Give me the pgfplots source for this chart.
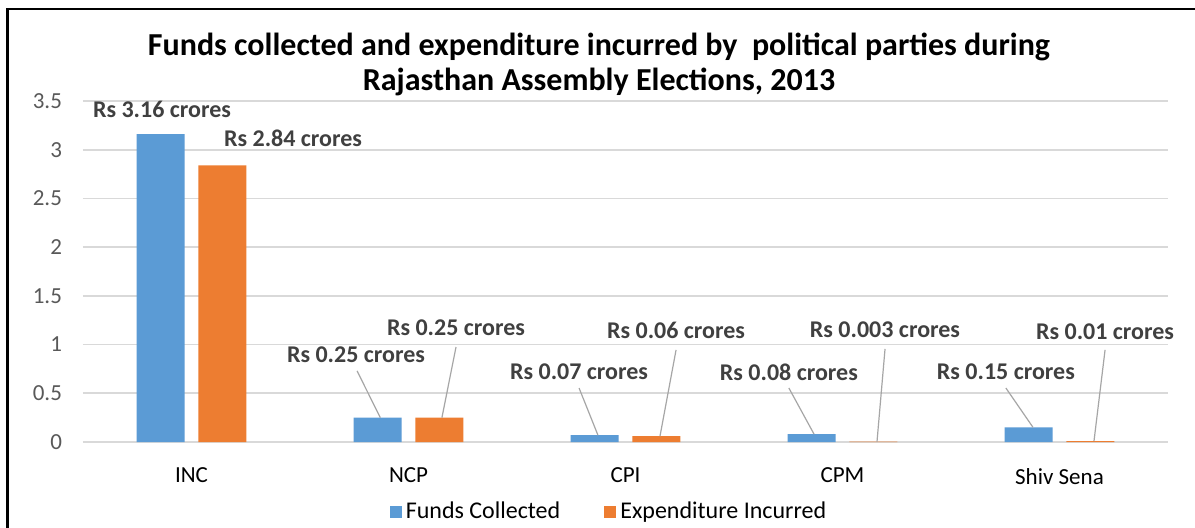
\documentclass[border=0pt]{standalone}
\usepackage{fontspec}
\setmainfont{Carlito}
\usepackage{pgfplots}
\usepackage{pgfplotstable}
\pgfplotsset{compat=1.18}
\definecolor{fundblue}{HTML}{5B9BD5}
\definecolor{exporange}{HTML}{ED7D31}
\definecolor{gridgray}{HTML}{D9D9D9}
\definecolor{ticktext}{HTML}{595959}
\definecolor{labtext}{HTML}{404040}
\definecolor{leader}{HTML}{A6A6A6}
\pgfplotstableread{
x funds exp
0 3.16 2.84
1 0.25 0.25
2 0.07 0.06
3 0.08 0.003
4 0.15 0.01
}\data
\begin{document}
\begin{tikzpicture}
\useasboundingbox (0,0) rectangle (597.5pt,263.5pt);
\fill[white] (0,0) rectangle (597.5pt,263.5pt);
\draw[black, line width=1.3pt] (3.8pt,-1pt) -- (3.8pt,259pt) -- (599pt,259pt);
\node[align=center, font=\fontsize{16pt}{17.5pt}\selectfont\bfseries, text=black] at (299.5pt,231.5pt)
  {Funds collected and expenditure incurred by\ \ political parties during\\Rajasthan Assembly Elections, 2013};
\begin{axis}[
  at={(41.5pt,42.5pt)}, anchor=south west,
  scale only axis, width=542.5pt, height=170.5pt,
  xmin=-0.5, xmax=4.5, ymin=0, ymax=3.5,
  xtick={0,1,2,3,4}, xticklabels={INC,NCP,CPI,CPM,Shiv Sena},
  ytick={0,0.5,1,1.5,2,2.5,3,3.5},
  yticklabels={0,0.5,1,1.5,2,2.5,3,3.5},
  major tick length=0pt,
  axis line style={draw=none},
  ymajorgrids, grid style={gridgray, line width=0.9pt},
  tick label style={font=\fontsize{11.5pt}{13pt}\selectfont},
  xticklabel style={yshift=-9.5pt, text=black},
  yticklabel style={xshift=-7pt, text=ticktext},
  legend style={at={(0.4857,-0.205)}, anchor=center, draw=none, fill=none,
    legend columns=2, font=\fontsize{12pt}{14pt}\selectfont, text=black,
    /tikz/every even column/.append style={column sep=20pt}},
  legend image code/.code={\fill[#1] (0pt,-3pt) rectangle (6pt,3pt);},
  clip=false,
]
\addplot[ybar, bar width=24pt, bar shift=-15.4pt, fill=fundblue, draw=none] table[x=x,y=funds]{\data};
\addlegendentry{Funds Collected}
\addplot[ybar, bar width=24pt, bar shift=15.4pt, fill=exporange, draw=none] table[x=x,y=exp]{\data};
\addlegendentry{Expenditure Incurred}
% data labels
\begin{scope}[every node/.style={font=\fontsize{12pt}{14pt}\selectfont\bfseries, text=labtext}]
\node at (axis cs:-0.136,3.41) {Rs 3.16 crores};
\node at (axis cs:0.468,3.12) {Rs 2.84 crores};
\node at (axis cs:0.758,0.893) {Rs 0.25 crores};
\node at (axis cs:1.219,1.17) {Rs 0.25 crores};
\node at (axis cs:1.786,0.718) {Rs 0.07 crores};
\node at (axis cs:2.233,1.15) {Rs 0.06 crores};
\node at (axis cs:2.753,0.718) {Rs 0.08 crores};
\node at (axis cs:3.196,1.15) {Rs 0.003 crores};
\node at (axis cs:3.753,0.718) {Rs 0.15 crores};
\node at (axis cs:4.21,1.13) {Rs 0.01 crores};
\end{scope}
\begin{scope}[leader, line width=0.6pt]
\draw (axis cs:0.763,0.73) -- (axis cs:0.870,0.25);
\draw (axis cs:1.219,0.975) -- (axis cs:1.154,0.25);
\draw (axis cs:1.786,0.554) -- (axis cs:1.873,0.07);
\draw (axis cs:2.233,0.945) -- (axis cs:2.159,0.06);
\draw (axis cs:2.753,0.554) -- (axis cs:2.869,0.08);
\draw (axis cs:3.196,0.955) -- (axis cs:3.159,0.003);
\draw (axis cs:3.753,0.554) -- (axis cs:3.878,0.15);
\draw (axis cs:4.21,0.945) -- (axis cs:4.159,0.01);
\end{scope}
\end{axis}
\end{tikzpicture}
\end{document}
